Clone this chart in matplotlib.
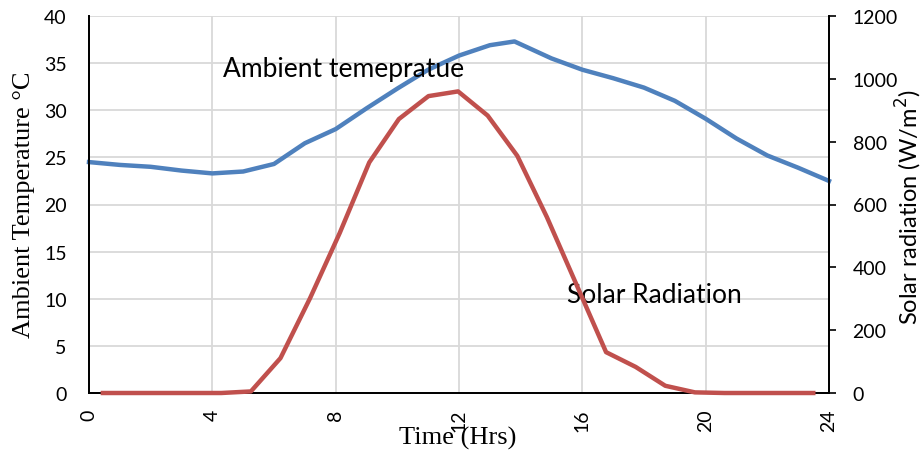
import matplotlib
matplotlib.use("Agg")
import matplotlib.pyplot as plt

# ---- data ----
temp_hours = [0, 1, 2, 3, 4, 5, 6, 7, 8, 9, 10, 11, 12, 13, 13.8, 15, 16, 17, 18, 19, 20, 21, 22, 23, 24]
temperature = [24.5, 24.2, 24.0, 23.6, 23.3, 23.5, 24.3, 26.5, 28.0, 30.2, 32.3, 34.3, 35.8, 36.9, 37.3,
               35.5, 34.3, 33.4, 32.4, 31.0, 29.1, 27.0, 25.2, 23.9, 22.5]

solar_hours = [0.45, 1.41, 2.37, 3.33, 4.29, 5.25, 6.21, 7.17, 8.13, 9.09, 10.05, 11.01, 11.97,
               12.93, 13.89, 14.85, 15.81, 16.77, 17.73, 18.69, 19.65, 20.61, 21.57, 22.53, 23.49]
solar = [0, 0, 0, 0, 0, 5, 111, 302, 509, 734, 872, 945, 960,
         883, 755, 560, 345, 130, 83, 23, 2, 0, 0, 0, 0]

x_ticks = [0, 4, 8, 12, 16, 20, 24]
temp_ticks = [0, 5, 10, 15, 20, 25, 30, 35, 40]
solar_ticks = [0, 200, 400, 600, 800, 1000, 1200]

BLUE = "#4F81BD"
RED = "#C0504D"
SANS = ["Lato", "DejaVu Sans"]
SERIF = ["Liberation Serif", "DejaVu Serif"]

fig = plt.figure(figsize=(9.23, 4.52), dpi=100)
ax = fig.add_axes([89 / 923, 1 - 394 / 452, (829 - 89) / 923, (394 - 17) / 452])
ax2 = ax.twinx()

ax.set_xlim(0, 24)
ax.set_ylim(0, 40)
ax2.set_ylim(0, 1200)

ax.set_xticks(x_ticks)
ax.set_yticks(temp_ticks)
ax2.set_yticks(solar_ticks)

ax.grid(True, color="#D9D9D9", linewidth=1.3)
ax.set_axisbelow(True)

ax.plot(temp_hours, temperature, color=BLUE, linewidth=3.2, clip_on=False,
        solid_joinstyle="round", zorder=3)
ax2.plot(solar_hours, solar, color=RED, linewidth=3.2, clip_on=False,
         solid_joinstyle="round", zorder=3)

for a in (ax, ax2):
    a.spines["top"].set_visible(False)
    for s in ("left", "right", "bottom"):
        a.spines[s].set_linewidth(1.3)
        a.spines[s].set_color("black")

ax.tick_params(axis="y", length=0, labelsize=14, pad=16)
ax.tick_params(axis="x", length=0, labelsize=14, pad=11, labelrotation=90)
ax2.tick_params(axis="y", length=5, width=1.2, labelsize=14, pad=12)

for lbl in ax.get_xticklabels() + ax.get_yticklabels() + ax2.get_yticklabels():
    lbl.set_fontfamily(SANS)

ax.text(8.27, 33.6, "Ambient temepratue", fontsize=19, family=SANS, ha="center", va="baseline")
ax.text(18.33, 9.66, "Solar Radiation", fontsize=19, family=SANS, ha="center", va="baseline")

fig.text(24 / 923, 1 - 205 / 452, "Ambient Temperature \u00b0C", rotation=90, fontsize=19,
         family=SERIF, ha="center", va="center")
fig.text(909 / 923, 1 - 207 / 452, "Solar radiation (W/m$^2$)", rotation=90, fontsize=17,
         family=SANS, ha="center", va="center")
fig.text(458 / 923, 1 - 438 / 452, "Time (Hrs)", fontsize=19, family=SERIF,
         ha="center", va="center")

fig.savefig("out.png", dpi=100)
